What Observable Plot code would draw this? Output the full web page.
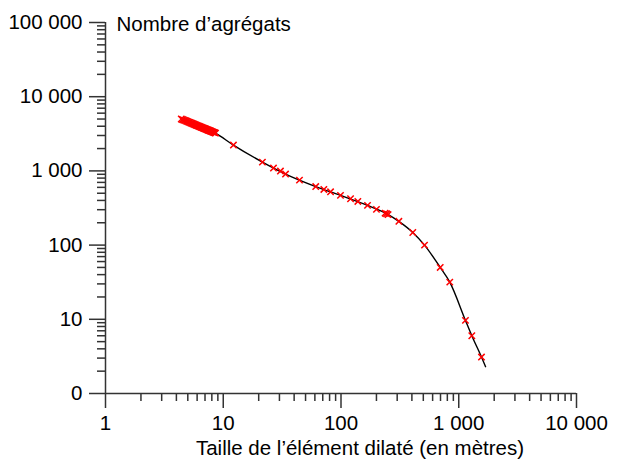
<!DOCTYPE html>
<html>
<head>
<meta charset="utf-8">
<script src="https://cdn.jsdelivr.net/npm/d3@7"></script>
<script src="https://cdn.jsdelivr.net/npm/@observablehq/plot@0.6"></script>
<style>
  html, body { margin: 0; padding: 0; background: #fff; }
</style>
</head>
<body>
<div id="chart"></div>
<script>
// Marker points (size of dilated element in m, number of aggregates)
const pointSizes = [
  4.4, 4.5, 4.6, 4.7, 4.8, 4.9, 5.0, 5.1, 5.2, 5.3, 5.4, 5.5, 5.6, 5.7, 5.8, 5.9, 6.0, 6.1, 6.2, 6.3, 6.4,
  6.5, 6.6, 6.7, 6.8, 6.9, 7.0, 7.1, 7.2, 7.3, 7.4, 7.5, 7.6, 7.7, 7.8, 7.9, 8.0, 8.1, 8.2, 8.3, 8.4, 8.5, 8.6,
  12.2, 21.5, 26.7, 30.6, 33.8, 44.4, 61, 71.5, 81.5, 99, 120.5, 139, 168, 200, 237, 244, 251, 310, 407, 512, 696, 839, 1140, 1291, 1560];
const pointCounts = [
  5004, 4932, 4861, 4794, 4729, 4666, 4604, 4545, 4487, 4432, 4378, 4325, 4275, 4226, 4178, 4131, 4086, 4042, 3999, 3958, 3917,
  3877, 3839, 3801, 3764, 3729, 3694, 3660, 3627, 3594, 3562, 3531, 3501, 3470, 3442, 3413, 3385, 3357, 3331, 3304, 3278, 3253, 3228,
  2228, 1314, 1092, 994, 906, 751, 615, 563, 523, 468, 421, 388, 343, 303, 269, 264, 258, 209, 148, 100, 50, 31.7, 9.67, 6.0, 3.1];

// Fitted curve
const curveSizes = [4.4, 8.6, 12.2, 21.5, 33.8, 61, 99, 168, 250, 310, 407, 512, 696, 839, 1140, 1291, 1560, 1690];
const curveCounts = [5004, 3228, 2228, 1314, 906, 615, 468, 343, 260, 209, 148, 100, 50, 31.7, 9.67, 6.0, 3.1, 2.3];

// Axes
const xTickValues = [1, 10, 100, 1000, 10000];
const xTickLabels = ["1", "10", "100", "1 000", "10 000"];
const yTickValues = [1, 10, 100, 1000, 10000, 100000];
const yTickLabels = ["0", "10", "100", "1 000", "10 000", "100 000"];
const xTitle = "Taille de l’élément dilaté (en mètres)";
const yTitle = "Nombre d’agrégats";

const minorX = [];
for (const d of xTickValues.slice(0, -1)) for (let k = 2; k <= 9; k++) minorX.push(d * k);
const minorY = [];
for (const d of yTickValues.slice(0, -1)) for (let k = 2; k <= 9; k++) minorY.push(d * k);

const points = pointSizes.map((s, i) => ({size: s, count: pointCounts[i]}));
const curve = curveSizes.map((s, i) => ({size: s, count: curveCounts[i]}));

const FS = 20.5;
const axisColor = "#333";

const chart = Plot.plot({
  width: 634,
  height: 461,
  marginLeft: 105,
  marginRight: 58,
  marginTop: 22,
  marginBottom: 68,
  style: {fontFamily: "'Liberation Sans', Arial, sans-serif", fontSize: FS + "px", background: "#fff", color: "#000"},
  x: {type: "log", domain: [1, 10000]},
  y: {type: "log", domain: [1, 100000]},
  marks: [
    Plot.ruleX([1], {stroke: axisColor, strokeWidth: 1.5}),
    Plot.ruleY([1], {stroke: axisColor, strokeWidth: 1.5}),
    Plot.axisY(minorY, {anchor: "left", tickSize: 8, tickFormat: () => "", stroke: axisColor, strokeWidth: 1.5, label: null}),
    Plot.axisY(yTickValues, {anchor: "left", tickSize: 16, tickPadding: 7, fontSize: FS, stroke: axisColor, strokeWidth: 1.5,
      tickFormat: d => yTickLabels[yTickValues.indexOf(d)], label: null}),
    Plot.axisX(minorX, {anchor: "bottom", tickSize: 8, tickFormat: () => "", stroke: axisColor, strokeWidth: 1.5, label: null}),
    Plot.axisX(xTickValues, {anchor: "bottom", tickSize: 15, tickPadding: 7, fontSize: FS, stroke: axisColor, strokeWidth: 1.5,
      tickFormat: d => xTickLabels[xTickValues.indexOf(d)], label: null}),
    Plot.line(curve, {x: "size", y: "count", curve: "monotone-x", stroke: "#000", strokeWidth: 1.4}),
    Plot.dot(points, {x: "size", y: "count", symbol: "times", r: 3, stroke: "#ff0000", strokeWidth: 1.5}),
    Plot.text([yTitle], {frameAnchor: "top-left", textAnchor: "start", lineAnchor: "top", dx: 11, dy: -6, fontSize: FS, fill: "#000"}),
    Plot.text([xTitle], {frameAnchor: "bottom", lineAnchor: "top", dx: 19, dy: 47, fontSize: FS, fill: "#000"})
  ]
});
document.getElementById("chart").appendChild(chart);
</script>
</body>
</html>
